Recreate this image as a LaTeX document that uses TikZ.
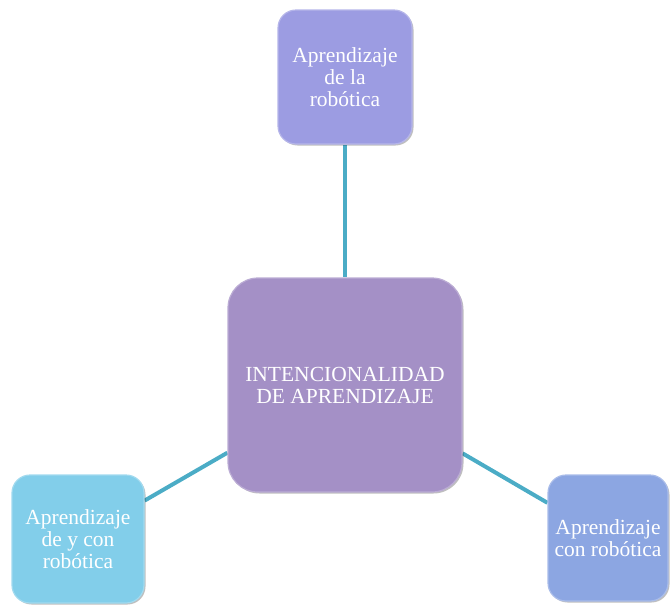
\documentclass[tikz,border=0pt]{standalone}
\usepackage{fontspec}
\setmainfont{Liberation Serif}
\usetikzlibrary{backgrounds,shadows}
\definecolor{linkcol}{RGB}{75,172,198}
\definecolor{topcol}{RGB}{156,156,226}
\definecolor{midcol}{RGB}{164,144,198}
\definecolor{leftcol}{RGB}{130,206,234}
\definecolor{rightcol}{RGB}{140,166,226}
\tikzset{
  card/.style={rounded corners=18pt, draw=#1!75!white, line width=1.2pt,
    fill=#1, text=white, align=center, inner sep=0pt,
    font=\fontsize{21.5}{22}\selectfont,
    drop shadow={shadow xshift=1.5pt, shadow yshift=-1.5pt, opacity=0.25, fill=black}},
  link/.style={draw=linkcol, line width=4pt}
}
\begin{document}
\begin{tikzpicture}[x=1pt,y=-1pt]
\useasboundingbox (0,0) rectangle (672,606);
\node[card=topcol, minimum width=134pt, minimum height=134pt] (top) at (345,77)
  {Aprendizaje\\de la\\robótica};
\node[card=midcol, rounded corners=30pt, minimum width=234pt, minimum height=214pt] (mid) at (345,385)
  {INTENCIONALIDAD\\DE APRENDIZAJE};
\node[card=leftcol, minimum width=132pt, minimum height=128pt] (left) at (78,539)
  {Aprendizaje\\de y con\\robótica};
\node[card=rightcol, minimum width=120pt, minimum height=126pt] (right) at (608,538)
  {Aprendizaje\\con robótica};
\begin{scope}[on background layer]
  \draw[link] (top) -- (mid);
  \draw[link] (left) -- (mid);
  \draw[link] (right) -- (mid);
\end{scope}
\end{tikzpicture}
\end{document}
